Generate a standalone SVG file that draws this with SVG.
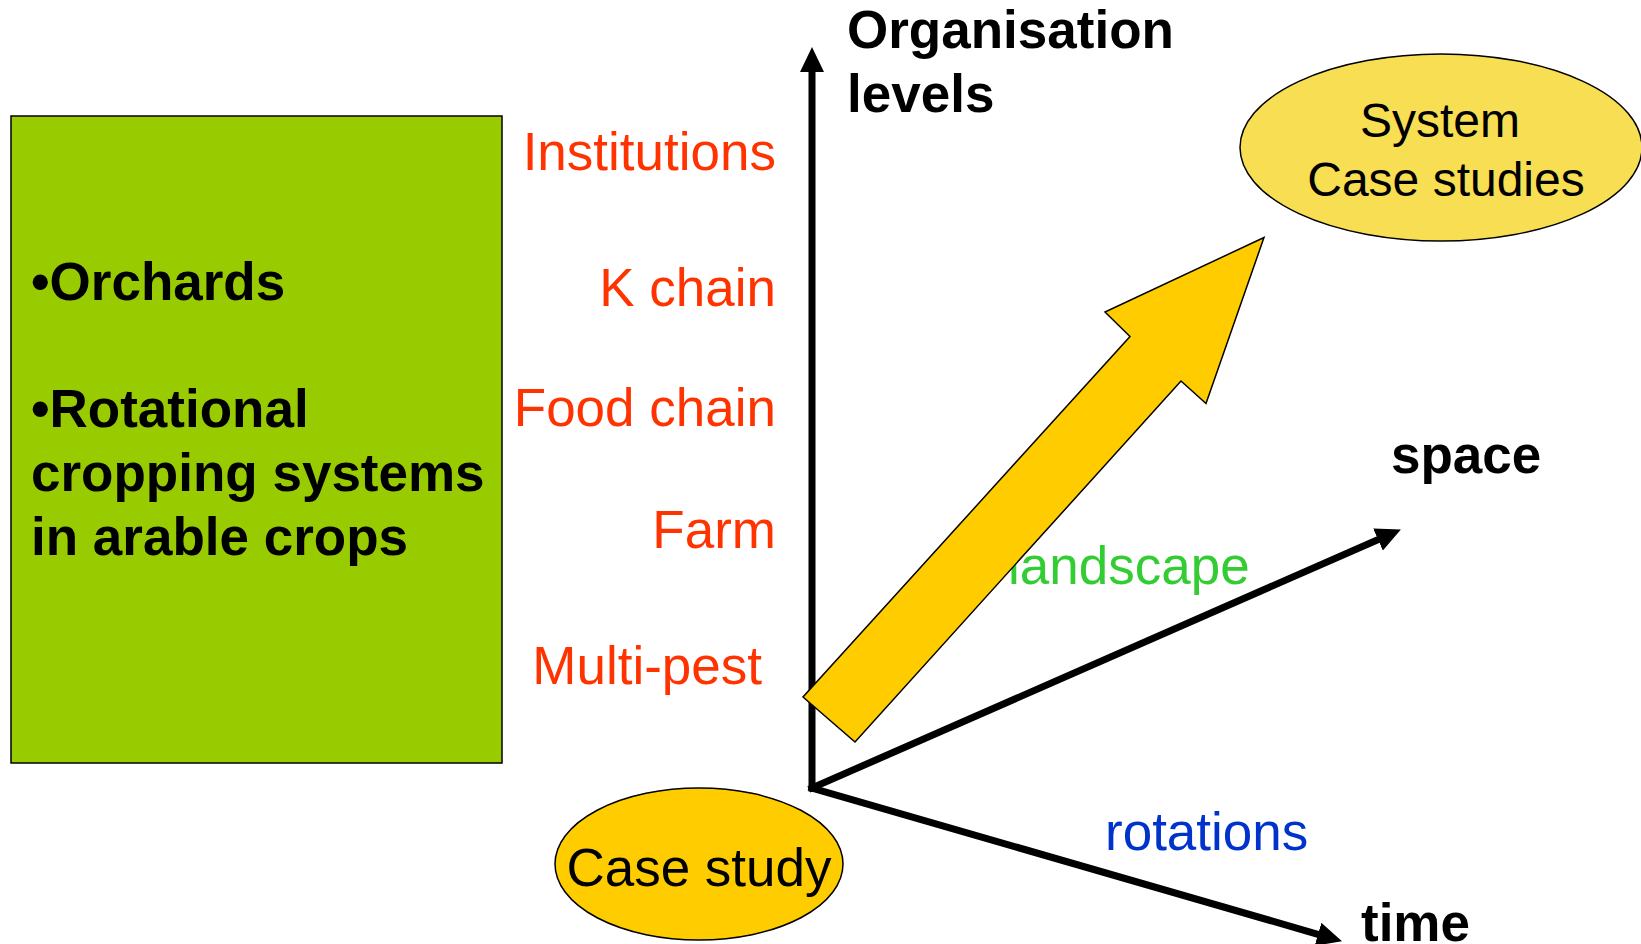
<svg xmlns="http://www.w3.org/2000/svg" width="1641" height="944" viewBox="0 0 1641 944">
<style>
text{font-family:"Liberation Sans",Arial,sans-serif;}
.b{font-weight:bold;font-size:53px;fill:#000;}
.lvl{font-size:53px;fill:#FF3300;text-anchor:end;}
.ax{stroke:#000;stroke-width:7;fill:none;stroke-linecap:square;}
.thin{stroke:#000;stroke-width:1.5;}
</style>
<defs>
<marker id="ah" markerUnits="userSpaceOnUse" markerWidth="25" markerHeight="24" viewBox="0 0 25 24" refX="0" refY="12" orient="auto">
<path d="M0,0 L25,12 L0,24 z" fill="#000"/>
</marker>
</defs>
<rect width="1641" height="944" fill="#fff"/>
<g id="scope-box">
<rect x="11" y="116" width="491" height="647" fill="#99CC00" class="thin"/>
<text class="b" x="31" y="300">•Orchards</text>
<text class="b" x="31" y="427">•Rotational</text>
<text class="b" x="31" y="491">cropping systems</text>
<text class="b" x="31" y="555">in arable crops</text>
</g>
<g id="levels">
<text class="lvl" x="776" y="170">Institutions</text>
<text class="lvl" x="776" y="306">K chain</text>
<text class="lvl" x="776" y="426">Food chain</text>
<text class="lvl" x="776" y="548">Farm</text>
<text class="lvl" x="762" y="684">Multi-pest</text>
</g>
<g id="axis-labels">
<text class="b" x="847" y="48">Organisation</text>
<text class="b" x="847" y="112">levels</text>
<text class="b" x="1391" y="473">space</text>
<text class="b" x="1361" y="941">time</text>
<text x="1008" y="584" font-size="53" fill="#33CC33">landscape</text>
<text x="1105" y="850" font-size="53" fill="#0033CC">rotations</text>
</g>
<g id="connectors">
<path class="ax" d="M812,788 L812,72" marker-end="url(#ah)"/>
<path class="ax" d="M812,788 L1378,539.6" marker-end="url(#ah)"/>
<path class="ax" d="M812,788 L1318,934.3" marker-end="url(#ah)"/>
</g>
<g id="big-arrow">
<polygon points="803,697 855,742 1181,381 1206,403.5 1264,237.5 1105,312 1130,336.5" fill="#FFCC00" class="thin" stroke-linejoin="miter"/>
</g>
<g id="case-study">
<ellipse cx="699" cy="864" rx="144" ry="76" fill="#FFCC00" class="thin"/>
<text x="699" y="886" font-size="53" text-anchor="middle" fill="#000">Case study</text>
</g>
<g id="system-case-studies">
<ellipse cx="1441" cy="147.5" rx="201" ry="93.5" fill="#F8DE52" class="thin"/>
<text x="1440" y="137" font-size="48" text-anchor="middle" fill="#000">System</text>
<text x="1446" y="196" font-size="48" text-anchor="middle" fill="#000">Case studies</text>
</g>
</svg>
